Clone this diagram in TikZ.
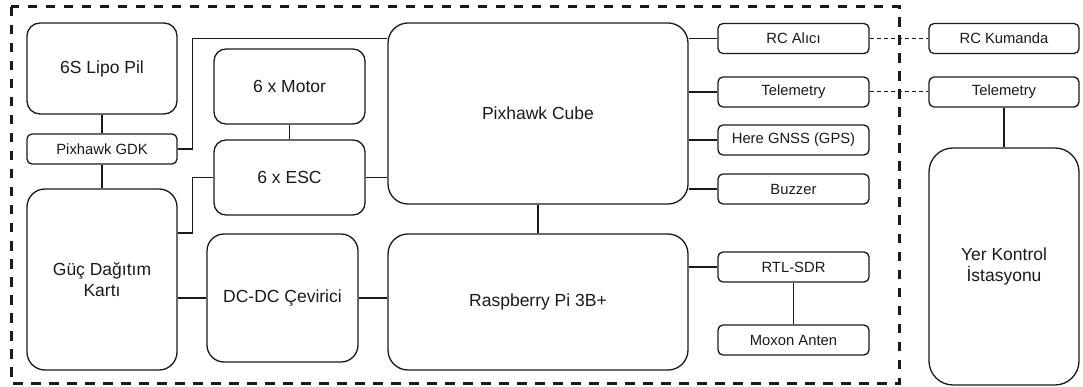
\documentclass[tikz,border=0pt]{standalone}
\usepackage{fontspec}
\setmainfont{Liberation Sans}
\usetikzlibrary{calc}
\definecolor{ink}{HTML}{1A1A1A}
\tikzset{
  bx/.style={draw=ink, line width=1.3pt, inner sep=0pt, text=ink, align=center},
  bigtxt/.style={font=\fontsize{17.5}{21}\selectfont},
  smalltxt/.style={font=\fontsize{14.8}{17}\selectfont},
  sbox/.style={bx, smalltxt, rounded corners=5pt, minimum width=151pt, minimum height=30pt},
  wire/.style={draw=ink, line width=1.3pt},
  link/.style={draw=ink, line width=1pt, dash pattern=on 4pt off 3pt},
  frame/.style={draw=ink, line width=3pt, dash pattern=on 9.5pt off 8.5pt}
}
\begin{document}
\begin{tikzpicture}[x=1pt,y=-1pt]
\useasboundingbox (0,0) rectangle (1083,387);
\draw[frame] (11,7) rectangle (899,383);

\node[bx, bigtxt, rounded corners=13pt, minimum width=150pt, minimum height=91pt] (lipo) at (102,68.5) {6S Lipo Pil};
\node[sbox, minimum width=150pt] (gdk) at (102,149) {Pixhawk GDK};
\node[bx, bigtxt, rounded corners=18pt, minimum width=150pt, minimum height=181pt] (guc) at (102,279.5) {Güç Dağıtım\\Kartı};
\node[bx, bigtxt, rounded corners=12pt, minimum width=151pt, minimum height=75pt] (motor) at (289.5,86.5) {6 x Motor};
\node[bx, bigtxt, rounded corners=12pt, minimum width=151pt, minimum height=75pt] (esc) at (289.5,177.5) {6 x ESC};
\node[bx, bigtxt, rounded corners=17pt, minimum width=151pt, minimum height=128pt] (dcdc) at (282.5,298) {DC-DC Çevirici};
\node[bx, bigtxt, rounded corners=20pt, minimum width=300pt, minimum height=181pt] (cube) at (538,113.5) {Pixhawk Cube};
\node[bx, bigtxt, rounded corners=20pt, minimum width=300pt, minimum height=136pt] (rpi) at (538,302) {Raspberry Pi 3B+};

\node[sbox] (rc) at (793.5,38.5) {RC Alıcı};
\node[sbox] (tel) at (793.5,92) {Telemetry};
\node[sbox] (gnss) at (793.5,140) {Here GNSS (GPS)};
\node[sbox] (buzz) at (793.5,189) {Buzzer};
\node[sbox] (rtl) at (793.5,267) {RTL-SDR};
\node[sbox] (mox) at (793.5,340) {Moxon Anten};

\node[sbox, minimum width=150pt] (rck) at (1004,38.5) {RC Kumanda};
\node[sbox, minimum width=150pt] (tel2) at (1004,92) {Telemetry};
\node[bx, bigtxt, rounded corners=24pt, minimum width=150pt, minimum height=237pt] (yer) at (1004,266.5) {Yer Kontrol\\İstasyonu};

\draw[wire] (lipo.south) -- (gdk.north);
\draw[wire] (gdk.south) -- (guc.north);
\draw[wire] (gdk.east) -- ++(15,0) |- (cube.west |- rc.west);
\draw[wire] (motor.south) -- (esc.north);
\draw[wire] ([yshift=46.5pt]guc.east) -- ++(15,0) |- (esc.west);
\draw[wire] (esc.east) -- (cube.west |- esc.east);
\draw[wire] (dcdc.west) -- (guc.east |- dcdc.west);
\draw[wire] (dcdc.east) -- (rpi.west |- dcdc.east);
\draw[wire] (cube.south) -- (rpi.north);
\draw[wire] (cube.east |- rc.west) -- (rc.west);
\draw[wire] (cube.east |- tel.west) -- (tel.west);
\draw[wire] (cube.east |- gnss.west) -- (gnss.west);
\draw[wire] (cube.east |- buzz.west) -- (buzz.west);
\draw[wire] (rpi.east |- rtl.west) -- (rtl.west);
\draw[wire] (rtl.south) -- (mox.north);
\draw[link] (rc.east) -- (rck.west);
\draw[link] (tel.east) -- (tel2.west);
\draw[wire] (tel2.south) -- (yer.north);
\end{tikzpicture}
\end{document}
